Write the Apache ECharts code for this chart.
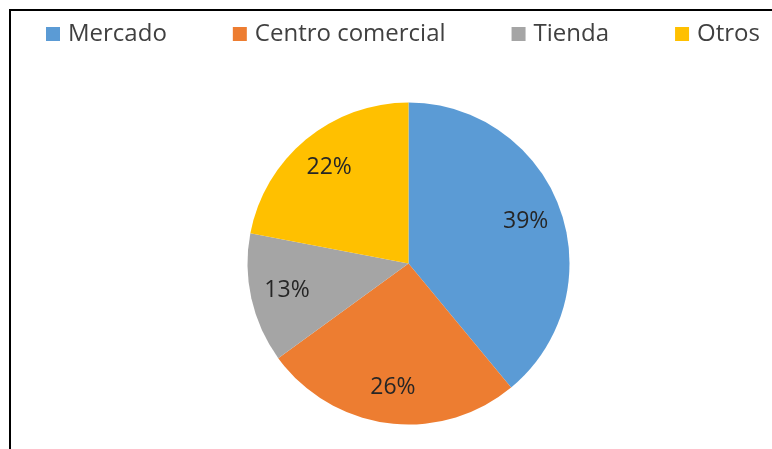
<!DOCTYPE html>
<html>
<head>
<meta charset="utf-8">
<script src="https://cdn.jsdelivr.net/npm/echarts@6/dist/echarts.min.js"></script>
<style>
  html, body { margin: 0; padding: 0; background: #fff; }
  #chart { width: 772px; height: 449px; }
</style>
</head>
<body>
<div id="chart"></div>
<script>
// datos del gráfico
const categories = ['Mercado', 'Centro comercial', 'Tienda', 'Otros']
const values = [39, 26, 13, 22]
const colors = ['#5B9BD5', '#ED7D31', '#A5A5A5', '#FFC000']

const pieData = categories.map((name, i) => ({
  name,
  value: values[i],
  itemStyle: { color: colors[i] }
}))

const chart = echarts.init(document.getElementById('chart'))

chart.setOption({
  animation: false,
  graphic: [
    {
      type: 'rect',
      shape: { x: 10, y: 10, width: 800, height: 500 },
      style: { fill: 'none', stroke: '#000', lineWidth: 2 },
      silent: true
    }
  ],
  legend: {
    left: 46,
    top: 20,
    padding: 0,
    itemWidth: 14,
    itemHeight: 14,
    itemGap: 66,
    icon: 'rect',
    textStyle: {
      fontFamily: 'Open Sans',
      fontSize: 24,
      lineHeight: 28,
      color: '#404040',
      padding: [0, 0, 0, 3]
    },
    data: categories
  },
  series: [
    {
      // sectores
      type: 'pie',
      center: [408.5, 263.5],
      radius: [0, 161],
      startAngle: 90,
      clockwise: true,
      silent: true,
      label: { show: false },
      labelLine: { show: false },
      data: pieData
    },
    {
      // etiquetas de porcentaje
      type: 'pie',
      center: [408.5, 263.5],
      radius: [82, 161],
      startAngle: 90,
      clockwise: true,
      silent: true,
      legendHoverLink: false,
      itemStyle: { color: 'rgba(0,0,0,0)' },
      label: {
        show: true,
        position: 'inside',
        formatter: '{c}%',
        fontFamily: 'Open Sans',
        fontSize: 23,
        color: '#262626'
      },
      labelLine: { show: false },
      data: values.map((v, i) => ({ name: categories[i] + ' ', value: v }))
    }
  ]
})
</script>
</body>
</html>
